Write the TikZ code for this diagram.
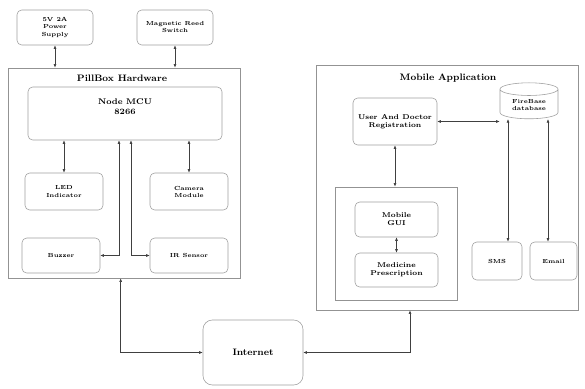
\documentclass[tikz,border=0pt]{standalone}
\usepackage{amsmath}
\usetikzlibrary{arrows.meta,shapes.geometric}

\tikzset{
  blk/.style={draw=gray!75, line width=0.5pt, rounded corners=4pt, align=center, font=\tiny\bfseries, inner sep=1pt},
  frame/.style={draw=gray!85, line width=0.6pt, inner sep=0pt},
  ttl/.style={font=\footnotesize\bfseries},
  link/.style={draw=black!75, line width=0.5pt, {Latex[length=3pt,width=2.5pt]}-{Latex[length=3pt,width=2.5pt]}},
}

\begin{document}
\begin{tikzpicture}[x=0.03cm,y=-0.03cm]
\useasboundingbox (0,0) rectangle (585,388);
% outside the box
\node[blk, minimum width=2.28cm, minimum height=1.05cm] (psu) at (55,27.5) {5V 2A\\Power\\Supply};
\node[blk, minimum width=2.28cm, minimum height=1.05cm] (reed) at (175,27.5) {Magnetic Reed\\Switch};
% pillbox hardware
\node[frame, minimum width=6.96cm, minimum height=6.3cm] (hw) at (124,173) {};
\node[ttl] (hwt) at (122,78) {PillBox Hardware};
\node[blk, font=\scriptsize\bfseries, minimum width=5.82cm, minimum height=1.59cm] (mcu) at (125,113.5) {Node MCU\\8266\\[4pt]};
\node[blk, minimum width=2.34cm, minimum height=1.11cm] (led) at (64,191.5) {LED\\Indicator};
\node[blk, minimum width=2.34cm, minimum height=1.11cm] (cam) at (189,191.5) {Camera\\Module};
\node[blk, minimum width=2.34cm, minimum height=1.05cm] (buz) at (61,255.5) {Buzzer};
\node[blk, minimum width=2.34cm, minimum height=1.05cm] (ir) at (189,255.5) {IR Sensor};
% internet
\node[blk, rounded corners=8pt, font=\footnotesize\bfseries, minimum width=3cm, minimum height=1.95cm] (net) at (253,352.5) {Internet};
% mobile application
\node[frame, minimum width=7.86cm, minimum height=7.35cm] (app) at (447,187.5) {};
\node[ttl] (appt) at (448,78) {Mobile Application};
\node[blk, font=\fontsize{6}{7}\selectfont\bfseries, minimum width=2.52cm, minimum height=1.41cm] (reg) at (395,121.5) {User And Doctor\\Registration};
\node[blk, shape=cylinder, shape border rotate=90, aspect=0.35, rounded corners=0pt, minimum width=1.74cm, minimum height=1.08cm] (fb) at (529,105) {FireBase\\database};
\node[frame, minimum width=3.66cm, minimum height=3.39cm] (gui box) at (396,243.5) {};
\node[blk, font=\fontsize{6}{7}\selectfont\bfseries, minimum width=2.49cm, minimum height=1.05cm] (gui) at (396.5,219.5) {Mobile\\GUI};
\node[blk, font=\fontsize{6}{7}\selectfont\bfseries, minimum width=2.49cm, minimum height=1.02cm] (med) at (396.5,270) {Medicine\\Prescription};
\node[blk, minimum width=1.5cm, minimum height=1.14cm] (sms) at (497,261) {SMS};
\node[blk, minimum width=1.41cm, minimum height=1.14cm] (mail) at (553.5,261) {Email};

\coordinate (mcul) at ([xshift=-0.18cm]mcu.south);
\coordinate (mcur) at ([xshift=0.18cm]mcu.south);
\coordinate (fbl) at ([xshift=-0.63cm]fb.south);
\coordinate (fbr) at ([xshift=0.57cm]fb.south);
\coordinate (appin) at ([xshift=-1.11cm]app.south);

\path[link] (psu.south) -- (psu.south |- hw.north);
\path[link] (reed.south) -- (reed.south |- hw.north);
\path[link] (led.north) -- (led.north |- mcu.south);
\path[link] (cam.north) -- (cam.north |- mcu.south);
\path[link] (mcul) |- (buz.east);
\path[link] (mcur) |- (ir.west);
\path[link] ([xshift=-0.1cm]hw.south) |- (net.west);
\path[link] (net.east) -| (appin);
\path[link] (reg.east) -- (reg.east -| fb.west);
\path[link] (reg.south) -- (reg.south |- gui box.north);
\path[link] (gui.south) -- (med.north);
\path[link] (fbl) -- (fbl |- sms.north);
\path[link] (fbr) -- (fbr |- mail.north);
\end{tikzpicture}
\end{document}
